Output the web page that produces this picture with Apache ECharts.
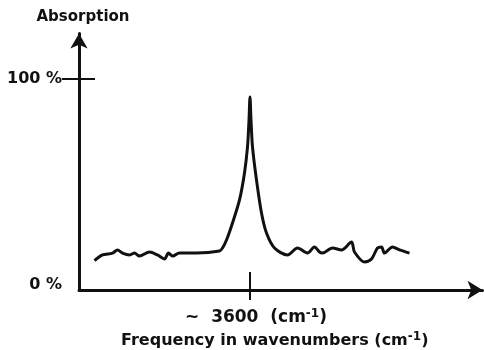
<!DOCTYPE html>
<html>
<head>
<meta charset="utf-8">
<script src="https://cdn.jsdelivr.net/npm/echarts@6/dist/echarts.min.js"></script>
<style>
  html, body { margin: 0; padding: 0; background: #fff; }
  #chart { width: 484px; height: 350px; }
</style>
</head>
<body>
<div id="chart"></div>
<script>
// spectrum trace: wavenumber (arbitrary scale, peak ~3600) and absorption %
const wavenumbers = [
  2978, 3010, 3050, 3070, 3090, 3118, 3138, 3158, 3198, 3230, 3258, 3274, 3290,
  3318, 3386, 3478, 3490, 3506, 3530, 3558, 3578, 3590, 3596, 3600, 3604, 3610,
  3626, 3646, 3666, 3698, 3750, 3790, 3830, 3858, 3878, 3890, 3930, 3966, 4006,
  4018, 4058, 4086, 4110, 4126, 4138, 4170, 4198, 4238
];
const absorption = [
  13.9, 16.6, 17.5, 19.0, 17.5, 16.6, 17.5, 16.1, 18.0, 16.6, 14.7, 17.5, 16.1,
  17.5, 17.5, 18.5, 19.9, 23.7, 31.8, 42.7, 55.5, 67.8, 80.6, 91.5, 80.6, 67.8,
  52.1, 36.5, 27.0, 19.9, 16.6, 19.9, 17.5, 20.4, 18.0, 17.5, 19.9, 19.0, 22.7,
  18.0, 13.3, 14.7, 19.9, 20.4, 17.5, 20.4, 19.0, 17.5
];
const yTicks = [0, 100];
const xTicks = [3600];
const peakLabel = '~  3600  (cm';

const FONT = 'DejaVu Sans';
const INK = '#111';
const txt = (size) => ({ fontFamily: FONT, fontSize: size, fontWeight: 'bold', color: INK });
const sup = (size) => ({ ...txt(size), verticalAlign: 'top', padding: [0, 0, 7, 0] });

const chart = echarts.init(document.getElementById('chart'), null, { renderer: 'canvas' });

const xBase = {
  type: 'value',
  min: 2916,
  max: 4530,
  position: 'bottom',
  splitLine: { show: false },
};
const yBase = {
  type: 'value',
  min: 0,
  max: 121.6,
  position: 'left',
  splitLine: { show: false },
};

chart.setOption({
  backgroundColor: '#fff',
  animation: false,
  grid: { left: 79, right: 1.5, top: 33.5, bottom: 60, outerBoundsMode: 'none' },
  xAxis: [
    {
      ...xBase,
      axisLine: {
        lineStyle: { color: INK, width: 3 },
        symbol: ['none', 'arrow'],
        symbolSize: [14, 15],
      },
      axisTick: { customValues: xTicks, length: 10, lineStyle: { color: INK, width: 2 } },
      axisLabel: {
        customValues: xTicks,
        margin: 18,
        padding: [0, 0, 0, 12],
        formatter: () => `{t|${peakLabel}}{s|-1}{t|)}`,
        rich: { t: txt(17), s: sup(12) },
      },
      name: '{t|Frequency in wavenumbers (cm}{s|-1}{t|)}',
      nameLocation: 'middle',
      nameGap: 39,
      nameTextStyle: { padding: [0, 12, 0, 0], rich: { t: txt(16), s: sup(12) } },
    },
    {
      ...xBase,
      axisLine: { show: false },
      axisTick: { customValues: xTicks, inside: true, length: 18, lineStyle: { color: INK, width: 2 } },
      axisLabel: { show: false },
    },
  ],
  yAxis: [
    {
      ...yBase,
      axisLine: {
        lineStyle: { color: INK, width: 3 },
        symbol: ['none', 'arrow'],
        symbolSize: [13, 15],
      },
      axisTick: { customValues: [100], length: 17, lineStyle: { color: INK, width: 2 } },
      axisLabel: {
        customValues: yTicks,
        margin: 17,
        formatter: (v) => (v === 0 ? '{z|0 %}' : '{t|100 %}'),
        rich: { t: txt(16), z: { ...txt(16), padding: [0, 0, 10, 0] } },
      },
      name: 'Absorption',
      nameLocation: 'end',
      nameGap: 9,
      nameTextStyle: { ...txt(15), padding: [0, 0, 0, 8] },
    },
    {
      ...yBase,
      axisLine: { show: false },
      axisTick: { customValues: [100], inside: true, length: 16, lineStyle: { color: INK, width: 2 } },
      axisLabel: { show: false },
    },
  ],
  series: [
    {
      type: 'line',
      data: wavenumbers.map((w, i) => [w, absorption[i]]),
      smooth: 0.3,
      showSymbol: false,
      lineStyle: { color: INK, width: 3 },
    },
  ],
});
</script>
</body>
</html>
